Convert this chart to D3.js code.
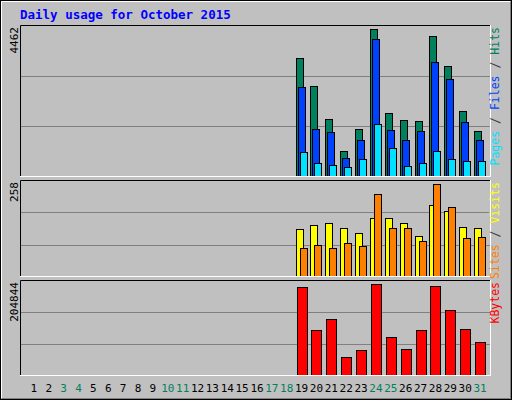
<!DOCTYPE html><html><head><script src="https://cdn.jsdelivr.net/npm/d3@7"></script>
<style>body{margin:0;background:#fff}</style></head><body><svg id="c" width="512" height="400"></svg>
<script>
const days = d3.range(1,32);
const weekend = [3,4,10,11,17,18,24,25,31];
const activeDays = [19,20,21,22,23,24,25,26,27,28,29,30,31];
const hits = [3582,2732,1760,789,1457,4462,1943,1730,1700,4250,3339,2003,1396];
const files = [2701,1457,1366,577,1123,4158,1427,1123,1396,3460,2944,1669,1123];
const pages = [759,425,364,304,546,1609,880,334,425,789,546,486,486];
const sites = [132,143,149,137,121,165,165,151,115,199,182,140,137];
const visits = [81,90,81,95,87,230,137,137,101,258,193,107,112];
const kbytes = [198088,103546,126056,42769,58526,204844,87789,60777,103546,200339,146315,105797,76534];
const maxLabels = ["4462","258","204844"];

const svg = d3.select("#c");
const F = "DejaVu Sans Mono, monospace";
svg.append("rect").attr("x",0.5).attr("y",0.5).attr("width",511).attr("height",399).attr("fill","#c0c0c0").attr("stroke","#000");
svg.append("path").attr("d","M1.5,398.5V1.5H510.5").attr("stroke","#fff").attr("fill","none");
svg.append("path").attr("d","M1.5,398.5H510.5V1.5").attr("stroke","#808080").attr("fill","none");
svg.append("text").attr("x",20).attr("y",19).attr("font-family",F).attr("font-weight","bold").attr("font-size",12.5).attr("fill","#0000ff").text("Daily usage for October 2015");

const x = d3.scaleBand().domain(days).range([26.5,487.5]).paddingInner(0);
const cx = d => x(d) + x.bandwidth()/2;
const L=20,R=491;
function panel(top,bottom,maxVal,ratio,series,label,rlabel){
  svg.append("rect").attr("x",L).attr("y",top).attr("width",R-L).attr("height",bottom-top).attr("fill","#c0c0c0");
  const y = d3.scaleLinear().domain([0,maxVal/ratio]).range([bottom,top]);
  const h=bottom-top;
  [1/3,2/3].forEach(f=>svg.append("line").attr("x1",L).attr("x2",R).attr("y1",Math.round(top+h*f)+0.5).attr("y2",Math.round(top+h*f)+0.5).attr("stroke","#808080"));
  series.forEach(s=>{
    svg.append("g").selectAll("rect").data(s.v).join("rect")
      .attr("x",(d,i)=>Math.round(cx(activeDays[i])+s.off)+0.5).attr("width",s.w)
      .attr("y",d=>Math.round(y(d))+0.5).attr("height",d=>bottom-Math.round(y(d))-1)
      .attr("fill",s.c).attr("stroke","#000");
  });
  svg.append("path").attr("d",`M${L+0.5},${bottom}V${top+0.5}H${R}`).attr("stroke","#000").attr("fill","none");
  svg.append("path").attr("d",`M${L},${bottom-0.5}H${R-0.5}V${top}`).attr("stroke","#fff").attr("fill","none");
  svg.append("text").attr("transform",`translate(18,${top+2}) rotate(-90)`).attr("text-anchor","end")
    .attr("font-family",F).attr("font-size",11).attr("fill","#000").text(label);
  const t=svg.append("text").attr("transform",`translate(499,${top+2}) rotate(-90)`).attr("text-anchor","end")
    .attr("font-family",F).attr("font-size",11.5);
  rlabel.forEach((p,i)=>{ if(i) t.append("tspan").attr("fill","#404040").text(" / "); t.append("tspan").attr("fill",p[1]).text(p[0]); });
}
panel(25,177,4462,0.974,[
 {v:hits,c:"#00805c",off:-6,w:7},{v:files,c:"#0040ff",off:-4,w:7},{v:pages,c:"#00e0ff",off:-2,w:7}],
 maxLabels[0],[["Pages","#00e0ff"],["Files","#0040ff"],["Hits","#00805c"]]);
panel(180,277,258,0.958,[
 {v:sites,c:"#ffff00",off:-6,w:7},{v:visits,c:"#ff8000",off:-2,w:7}],
 maxLabels[1],[["Sites","#ff8000"],["Visits","#ffff00"]]);
panel(280,376,204844,0.958,[
 {v:kbytes,c:"#ff0000",off:-5,w:10}],
 maxLabels[2],[["KBytes","#ff0000"]]);
svg.append("g").selectAll("text").data(days).join("text")
  .attr("x",d=>cx(d)).attr("y",392).attr("text-anchor","middle").attr("font-family",F).attr("font-size",11)
  .attr("fill",d=>weekend.includes(d)?"#00805c":"#000").text(d=>d);
</script></body></html>
